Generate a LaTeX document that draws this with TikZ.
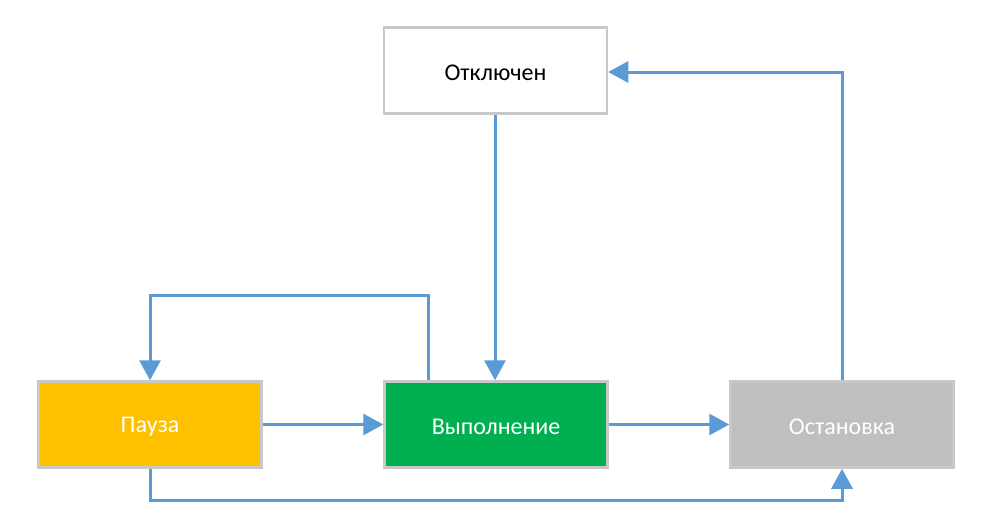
\documentclass[tikz,border=0pt]{standalone}
\usepackage{fontspec}
\setmainfont{Carlito}
\usetikzlibrary{arrows.meta}
\definecolor{lineblue}{HTML}{5B9BD5}
\definecolor{boxgray}{HTML}{C8C8C8}
\definecolor{pausefill}{HTML}{FFC000}
\definecolor{runfill}{HTML}{00B050}
\definecolor{stopfill}{HTML}{BFBFBF}
\tikzset{
  statebox/.style={draw=boxgray, line width=2.5pt, minimum width=223pt, minimum height=86pt,
    inner sep=0pt},
  label text/.style={font=\fontsize{24}{28}\selectfont},
  arr/.style={draw=lineblue, line width=3pt, line join=miter, -{Triangle[length=20pt,width=21pt]}}
}
\begin{document}
\begin{tikzpicture}[x=1pt,y=-1pt]
\useasboundingbox[fill=white] (0,0) rectangle (982,531);
\node[statebox, fill=white] (off) at (495.5,70.5) {};
\node[label text, text=black] (offt) at (495.5,73) {Отключен};
\node[statebox, fill=pausefill] (pause) at (150,424.5) {};
\node[label text, text=white] (pauset) at (150,427) {Пауза};
\node[statebox, fill=runfill] (run) at (496,424.5) {};
\node[label text, text=white] (runt) at (496,427) {Выполнение};
\node[statebox, fill=stopfill] (stop) at (842,424.5) {};
\node[label text, text=white] (stopt) at (842,427) {Остановка};
\draw[arr] (off.south -| 495,0) -- (run.north -| 495,0);
\draw[arr] (run.north -| 428,0) -- (428,295) -| (pause.north);
\draw[arr] (pause.east) -- (run.west);
\draw[arr] (run.east) -- (stop.west);
\draw[arr] (stop.north) |- (off.east |- 0,72);
\draw[arr] (pause.south) -- (150,500) -| (stop.south);
\end{tikzpicture}
\end{document}
